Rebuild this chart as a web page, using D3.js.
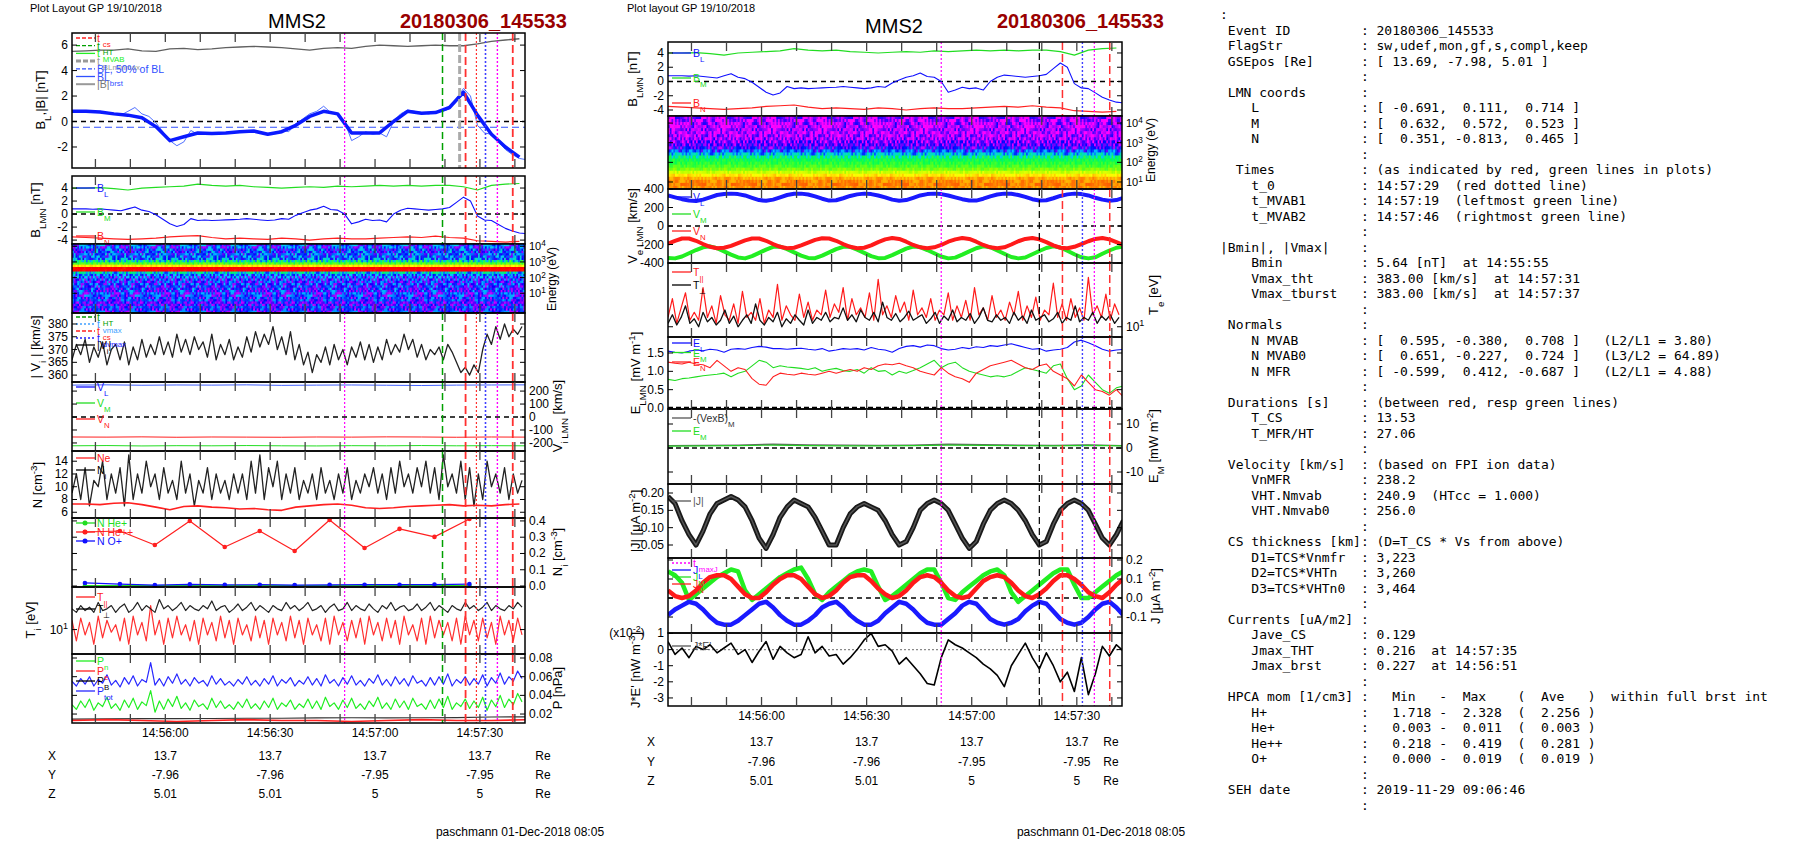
<!DOCTYPE html>
<html><head><meta charset="utf-8">
<script src="https://cdn.jsdelivr.net/npm/d3@7"></script>
<style>body{margin:0;background:#fff}text{font-family:"Liberation Sans",Arial,sans-serif}</style>
</head><body>
<script>
// ---------- DATA (seconds since 14:55:33.3; value i is at t0+i*step) ----------
const START = "14:55:33.3", SPAN = 129.6;
const timeTicks = ["14:55:40","14:55:50","14:56:00","14:56:10","14:56:20","14:56:30","14:56:40","14:56:50","14:57:00","14:57:10","14:57:20","14:57:30","14:57:40"];
const timeLabels = ["14:56:00","14:56:30","14:57:00","14:57:30"];
const posX = ["13.7","13.7","13.7","13.7"], posY = ["-7.96","-7.96","-7.95","-7.95"], posZ = ["5.01","5.01","5","5"];

const Bmag = [5.5,5.55,5.6,5.6,5.7,5.55,5.5,5.7,5.75,5.65,5.7,5.8,5.85,5.9,5.85,5.8,5.7,5.6,5.75,5.8,5.75,5.9,6.0,5.95,5.9,5.95,6.0,5.95,5.95,6.1,6.3,6.4,6.5]; // step 4
const BL = [0.8,0.8,0.8,0.75,0.8,0.7,0.6,0.5,0.8,1.1,0.6,0.4,-0.1,-0.8,-1.5,-1.9,-1.6,-0.7,-1.0,-0.9,-1.0,-0.95,-0.9,-0.85,-0.8,-0.7,-0.8,-0.9,-1.0,-0.9,-0.7,-0.8,-0.2,0.2,0.6,0.8,1.2,0.7,0.6,0.0,-1.5,-1.2,-0.8,-1.0,-0.9,-1.2,0.0,0.6,0.9,0.8,0.7,0.6,0.7,0.8,1.0,1.8,2.6,2.0,-0.3,-0.9,-1.0,-1.6,-2.2,-2.6,-2.9,-3.0]; // step 2
const BLsmooth = [0.8,0.8,0.75,0.6,0.5,0.3,-0.4,-1.5,-1.2,-0.9,-0.95,-0.9,-0.8,-0.75,-1.0,-0.8,-0.3,0.4,0.8,0.6,-0.9,-0.9,-0.9,0.0,0.8,0.65,0.7,1.1,2.3,0.5,-1.0,-2.0,-2.8]; // step 4
const BM = [4.0,4.0,4.05,3.9,3.7,4.0,4.1,4.2,4.3,4.6,4.4,4.3,4.4,4.2,4.1,4.0,4.1,4.2,4.1,4.3,4.2,4.3,4.4,4.3,4.4,4.3,4.4,4.4,4.2,3.7,4.4,4.6,4.7]; // step 4
const BN = [-3.5,-3.6,-3.7,-3.8,-3.9,-3.8,-3.7,-3.5,-3.4,-3.3,-3.6,-3.8,-3.7,-3.8,-3.9,-3.7,-3.8,-4.0,-3.8,-3.7,-3.8,-3.8,-3.7,-3.6,-3.5,-3.6,-3.4,-3.6,-3.7,-4.1,-4.2,-4.3,-4.2]; // step 4
const Vimag = [366,372,368,374,365,371,367,373,364,370,372,366,373,364,371,366,374,367,372,368,375,368,373,367,376,369,374,368,375,370,373,367,376,366,372,368,374,366,371,367,375,369,377,371,376,372,379,370,375,368,377,366,372,364,369,361,368,365,371,364,372,366,370,364,371,367,373,366,372,365,371,366,374,368,372,369,376,370,374,367,372,366,370,368,371,366,372,369,365,361,363,360,364,361,370,376,372,379,374,380,375,378,376,379]; // step 1.25
const ViL = [246,248,245,247,246,248,244,246,247,245,243,246,247,248]; // step 10
const ViM = [-222,-220,-223,-221,-222,-220,-222,-223,-221,-222,-220,-222,-221,-222];
const ViN = [-154,-155,-153,-156,-154,-155,-156,-154,-155,-153,-154,-156,-154,-155];
const Ni = [9,12,8,13,7,11,10,14,8,12,9,13,7,15,8,12,9,14,10,12,8,13,9,11,8,14,9,12,7,11,9,13,8,12,9,11,8,12,9,12,8,14,9,15,8,13,10,14,8,12,9,13,8,11,9,12,8,13,9,11,8,12,9,13,8,11,9,12,10,13,9,12,8,13,9,14,10,12,9,13,10,14,9,13,8,15,10,12,9,14,8,13,7,12,8,14,10,12,9,13,8,12,9,11]; // step 1.25
const Ne = [7.3,7.3,7.2,7.4,7.5,7.2,6.8,6.4,6.9,7.0,6.8,6.7,6.5,6.6,6.4,6.3,6.8,7.0,7.2,7.3,7.1,6.7,6.6,6.7,6.9,7.0,7.1,7.2,7.0,7.1,7.0,7.2,7.3]; // step 4
const NHepp = [0.332,0.338,0.252,0.400,0.240,0.338,0.215,0.406,0.234,0.351,0.302,0.412]; // t0 3.7, step 10
const NHep = [0.003,0.003,0.002,0.003,0.003,0.004,0.003,0.003,0.003,0.002,0.003,0.003];
const NOp = [0.019,0.012,0.006,0.010,0.007,0.008,0.006,0.007,0.008,0.008,0.009,0.012];
const Tperp = [15,14,16,14.5,15.5,14,17,14.5,15,16,14,15.5,16.5,14,15,17,14.5,16,15,14,18,15,16,14.5,15.5,17,14.5,16,15,14.5,16,15,17.5,14.5,15.5,16,14,15,16.5,14.5,15.5,17,14.5,16,15,14,16,15,14.5,17,15,16,14.5,15.5,17,14.5,15,16,14,15.5,16.5,14.5,15,17,14.5,16,15,14.5,16.5,15,14,16,15,17,14.5,15.5,16,14.5,15,16.5,14.5,15.5,17,14.5,16,15,14,16,15,14.5,17,15,16,14.5,15.5,17,14.5,16,15,14.5,16,15,17,15.5];
const Tpar = [12,8,12.5,9,11.5,7.5,13,8.5,12,9.5,11,8,12.5,7.5,13,9,11.5,8,16,9,12,7.5,12.5,8.5,13,9,11,8,12,7.5,12.5,9,11.5,8,13,8.5,12,7.5,12.5,9,11,8,13,8.5,12,7.5,12.5,9,11.5,8,13,8.5,12,7.5,12.5,9,11,8,12.5,7.5,13,9,11.5,8,12,8.5,12.5,7.5,13,9,11.5,8,12.5,8.5,12,7.5,13,9,11,8,12.5,7.5,13,8.5,12,9,11.5,8,12.5,7.5,13,9,12,8,12.5,8.5,11.5,7.5,13,9,12,8,12.5,9];
const Ptot = [0.055,0.05,0.058,0.052,0.06,0.05,0.057,0.053,0.062,0.051,0.056,0.049,0.059,0.052,0.061,0.05,0.057,0.054,0.075,0.051,0.058,0.05,0.06,0.053,0.063,0.052,0.057,0.05,0.059,0.053,0.056,0.05,0.061,0.052,0.058,0.051,0.055,0.05,0.057,0.052,0.06,0.051,0.056,0.05,0.058,0.052,0.061,0.05,0.057,0.053,0.059,0.05,0.056,0.052,0.06,0.051,0.058,0.05,0.062,0.053,0.057,0.05,0.059,0.052,0.061,0.051,0.056,0.05,0.058,0.053,0.062,0.051,0.057,0.05,0.06,0.052,0.058,0.05,0.061,0.053,0.056,0.05,0.059,0.051,0.06,0.052,0.063,0.05,0.057,0.053,0.06,0.051,0.058,0.052,0.062,0.05,0.059,0.053,0.064,0.052,0.06,0.055,0.066,0.058];
const Pion = [0.03,0.025,0.034,0.027,0.036,0.024,0.032,0.028,0.038,0.026,0.031,0.024,0.035,0.027,0.037,0.025,0.033,0.029,0.045,0.022,0.034,0.025,0.036,0.028,0.039,0.026,0.032,0.024,0.035,0.028,0.031,0.025,0.037,0.027,0.034,0.026,0.03,0.025,0.033,0.027,0.036,0.026,0.031,0.025,0.034,0.027,0.037,0.025,0.032,0.028,0.035,0.025,0.031,0.027,0.036,0.026,0.034,0.025,0.038,0.028,0.032,0.025,0.035,0.027,0.037,0.026,0.031,0.025,0.034,0.028,0.038,0.026,0.032,0.025,0.036,0.027,0.034,0.025,0.037,0.028,0.031,0.025,0.035,0.026,0.036,0.027,0.039,0.025,0.032,0.028,0.036,0.026,0.034,0.027,0.038,0.024,0.035,0.028,0.04,0.027,0.036,0.03,0.042,0.033];
const Pe = [0.013,0.014,0.013,0.012,0.013,0.014,0.013,0.013,0.012,0.013,0.014,0.013,0.013,0.014];
const PB = [0.0145,0.0148,0.015,0.015,0.0152,0.0155,0.0155,0.0158,0.016,0.0158,0.016,0.0162,0.0168,0.017];

const VeL = [330,310,290,275,270,285,310,335,345,350,345,330,305,280,272,285,310,335,348,350,340,320,295,275,278,300,325,342,350,345,330,310,285,272,280,305,330,345,350,345,330,310,290,275,275,295,320,340,350,348,335,315,290,275,278,300,325,342,350,345,330,305,285,272,280,305]; // step 2
const VeN = [-190,-160,-135,-135,-160,-195,-225,-240,-235,-215,-185,-155,-135,-135,-160,-195,-225,-240,-235,-210,-180,-150,-132,-135,-160,-195,-225,-240,-235,-210,-175,-145,-130,-140,-170,-205,-230,-240,-230,-205,-170,-145,-130,-140,-170,-205,-230,-240,-230,-200,-165,-140,-130,-145,-175,-210,-235,-240,-225,-195,-165,-140,-130,-145,-175,-205];
const VeM = [-345,-350,-330,-295,-260,-230,-220,-240,-275,-310,-340,-350,-325,-290,-255,-225,-222,-250,-285,-320,-345,-348,-320,-285,-250,-225,-225,-255,-290,-325,-348,-345,-315,-280,-245,-222,-228,-260,-295,-330,-350,-342,-310,-275,-240,-220,-230,-265,-300,-335,-350,-340,-305,-270,-238,-220,-232,-268,-305,-338,-350,-338,-300,-265,-235,-222];
const TeBlack = [11,14,10.5,13,18,11,12.5,10,15,11.5,13,10.5,12,16,11,13.5,10,12,14,11,19,12,10.5,13,11.5,15,10,12.5,11,14,12,10.5,16,11,13,12,15,11.5,13,12.5,17,12,14,11.5,16,13,12,15,11.5,20,13,12,14.5,11.5,13,15.5,12,13,14,11,12.5,15,11,13.5,12,16,11.5,13,12,14.5,11,13,17,12,11.5,14,12,13,11,15,12,13.5,11,16,12,13,14,11.5,12.5,15,11,13,12,18,11.5,13,12,15,11,13.5,12,14,11,13];
const TeRed = [13,22,11,17,26,12,15,12,30,13,18,11,24,14,12,19,11,27,13,15,12,22,11,16,13,33,12,18,14,12,25,13,20,12,16,14,28,13,19,15,30,12,22,14,17,13,26,12,38,14,18,13,24,15,20,12,28,14,17,13,22,12,16,14,26,12,18,13,21,12,30,14,17,12,24,13,16,12,20,14,27,12,18,13,23,12,16,14,34,13,19,12,22,13,17,12,40,14,18,13,25,12,19,14];
const EL = [1.55,1.52,1.5,1.55,1.58,1.56,1.6,1.58,1.52,1.6,1.62,1.6,1.65,1.68,1.66,1.62,1.62,1.6,1.62,1.63,1.6,1.58,1.62,1.55,1.58,1.62,1.6,1.62,1.58,1.65,1.6,1.58,1.52,1.62,1.68,1.7,1.66,1.72,1.7,1.62,1.58,1.6,1.65,1.62,1.67,1.65,1.7,1.68,1.72,1.75,1.7,1.65,1.6,1.62,1.55,1.58,1.6,1.65,1.8,1.85,1.78,1.7,1.6,1.55,1.58,1.6];
const EM = [0.78,0.75,0.8,0.82,0.85,0.88,0.9,0.92,0.95,0.85,0.95,1.0,1.15,1.3,1.25,1.1,1.15,1.12,1.1,1.08,1.05,1.1,1.0,1.05,1.08,1.02,1.0,1.05,0.95,1.1,1.0,1.02,0.9,1.0,0.95,1.02,1.1,1.2,1.3,1.1,1.2,1.25,1.1,1.0,0.95,0.9,0.85,0.88,0.85,0.9,1.0,1.1,1.05,1.0,0.95,1.15,1.2,0.8,0.5,0.6,0.9,0.7,0.5,0.4,0.55,0.6];
const EN = [1.25,1.22,1.2,1.25,1.2,1.18,1.1,1.3,1.15,1.0,1.1,1.05,0.8,0.65,0.62,0.85,0.95,0.92,0.9,0.95,0.92,0.9,0.95,1.0,0.95,1.0,1.05,1.0,1.1,1.05,1.15,1.2,1.18,1.22,1.15,1.1,1.0,0.95,0.9,1.1,0.95,0.85,0.8,0.7,0.95,1.05,1.15,1.2,1.25,1.3,1.2,1.1,1.05,1.15,1.2,1.0,0.9,0.8,0.6,0.9,0.7,0.5,0.45,0.35,0.5,0.3];
const VexB = [1.0,1.1,1.2,1.6,1.3,1.2,1.1,1.2,1.6,1.4,1.2,1.1,1.3,1.0]; // step 10
const EMflux = [0.8,0.9,1.0,1.2,1.0,0.9,0.9,1.0,1.2,1.1,1.0,0.9,1.1,0.9];
const Jmag = [0.19,0.17,0.12,0.08,0.05,0.09,0.14,0.17,0.18,0.19,0.18,0.16,0.12,0.07,0.04,0.08,0.13,0.16,0.18,0.17,0.16,0.13,0.09,0.05,0.05,0.10,0.14,0.16,0.17,0.16,0.15,0.12,0.08,0.05,0.06,0.10,0.15,0.17,0.18,0.17,0.15,0.11,0.07,0.04,0.06,0.11,0.15,0.17,0.18,0.17,0.15,0.12,0.08,0.05,0.06,0.11,0.15,0.17,0.18,0.17,0.15,0.11,0.07,0.05,0.08,0.12];
const JL = [-0.09,-0.06,-0.04,-0.02,-0.03,-0.06,-0.10,-0.13,-0.14,-0.14,-0.12,-0.09,-0.06,-0.03,-0.02,-0.05,-0.09,-0.12,-0.14,-0.14,-0.12,-0.09,-0.05,-0.03,-0.02,-0.05,-0.09,-0.12,-0.14,-0.14,-0.12,-0.08,-0.05,-0.02,-0.03,-0.06,-0.10,-0.13,-0.14,-0.14,-0.11,-0.08,-0.04,-0.02,-0.03,-0.07,-0.11,-0.13,-0.14,-0.13,-0.11,-0.07,-0.04,-0.02,-0.03,-0.07,-0.11,-0.13,-0.14,-0.13,-0.10,-0.06,-0.03,-0.02,-0.05,-0.09];
const JN = [0.04,0.01,0.0,0.01,0.04,0.08,0.11,0.12,0.12,0.10,0.06,0.02,0.0,0.0,0.03,0.07,0.10,0.12,0.12,0.10,0.06,0.02,0.0,0.01,0.04,0.08,0.11,0.12,0.12,0.09,0.05,0.02,0.0,0.01,0.04,0.08,0.11,0.12,0.11,0.08,0.04,0.01,0.0,0.01,0.05,0.09,0.11,0.12,0.11,0.08,0.04,0.01,0.0,0.02,0.05,0.09,0.12,0.12,0.10,0.07,0.03,0.01,0.0,0.03,0.07,0.10];
const JM = [0.14,0.12,0.08,-0.01,0.02,0.05,0.08,0.11,0.13,0.15,0.14,0.04,-0.01,0.02,0.05,0.08,0.11,0.13,0.15,0.16,0.10,0.02,-0.01,0.03,0.06,0.09,0.12,0.14,0.15,0.14,0.06,-0.01,0.01,0.04,0.07,0.10,0.13,0.15,0.15,0.08,0.0,-0.01,0.03,0.06,0.09,0.12,0.14,0.15,0.12,0.03,-0.02,0.01,0.04,0.07,0.10,0.13,0.15,0.15,0.07,0.0,0.0,0.03,0.06,0.09,0.12,0.14];
const JE = [0.5,-0.3,0.1,-0.5,0.2,0.0,0.3,-0.2,0.1,0.4,-0.3,0.0,-0.8,-0.1,0.5,-0.6,0.2,-0.2,-0.5,-0.3,0.8,-0.2,0.2,-0.4,-0.3,-0.9,-0.5,0.0,0.6,1.0,0.2,0.3,-0.1,-0.9,-0.5,-1.0,-1.5,-2.1,-2.2,-0.5,0.6,0.3,0.1,-0.2,-0.5,-0.9,-1.2,-1.6,-2.3,-1.0,-0.3,0.4,-0.5,-1.2,-0.2,-1.0,-2.0,-1.4,-2.6,-0.5,-2.8,-1.5,0.2,-0.4,0.3,-0.1];

// spectrogram levels per energy bin (top -> bottom, 0..1) and a fixed speckle pattern
const ionLevels = [0.22,0.22,0.24,0.24,0.25,0.26,0.3,0.42,0.56,0.73,0.97,0.97,0.36,0.24,0.22,0.22,0.21,0.22,0.2,0.21,0.2,0.2,0.19,0.2,0.19,0.18,0.19,0.18,0.18,0.18];
const eleLevels = [0.06,0.05,0.07,0.06,0.07,0.05,0.08,0.07,0.09,0.1,0.14,0.24,0.33,0.42,0.5,0.53,0.56,0.6,0.67,0.74,0.8,0.82,0.83,0.82];
const speckle = [0.3,-0.8,0.9,-0.2,0.6,-1,0.1,0.8,-0.5,0.4,-0.9,0.7,-0.3,0.2,-0.6,1,-0.1,0.5,-0.7,0.0,0.9,-0.4,0.3,-0.9,0.6,-0.2,0.8,-0.6,0.1];

// event times
const evLeft = [["14:56:51.3","#ff00ff","2,2",1.2],["14:57:19.3","#00a000","7,4",1.5],["14:57:25.9","#ff3030","8,4",1.8],["14:57:29","#ff3030","2,2",1.2],["14:57:31.6","#4040ff","2,2",1.6],["14:57:35","#ff00ff","2,2",1.4],["14:57:39.4","#ff3030","8,4",1.8]];
const evMid = [["14:56:51.3","#ff00ff","2,2",1.2],["14:57:19.3","#000","7,4",1.2],["14:57:25.9","#ff3030","8,4",1.5],["14:57:31.6","#4040ff","2,2",1.4],["14:57:35","#ff00ff","2,2",1.2],["14:57:39.4","#ff3030","8,4",1.5]];

const infoRows = [
["",":",null],[" Event ID","20180306_145533"],[" FlagStr","sw,udef,mon,gf,s,compl,keep"],[" GSEpos [Re]","[ 13.69, -7.98, 5.01 ]"],["",""],
[" LMN coords",""],["    L","[ -0.691,  0.111,  0.714 ]"],["    M","[  0.632,  0.572,  0.523 ]"],["    N","[  0.351, -0.813,  0.465 ]"],["",""],
["  Times","(as indicated by red, green lines in plots)"],["    t_0","14:57:29  (red dotted line)"],["    t_MVAB1","14:57:19  (leftmost green line)"],["    t_MVAB2","14:57:46  (rightmost green line)"],["",""],
["|Bmin|, |Vmax|",""],["    Bmin","5.64 [nT]  at 14:55:55"],["    Vmax_tht","383.00 [km/s]  at 14:57:31"],["    Vmax_tburst","383.00 [km/s]  at 14:57:37"],["",""],
[" Normals",""],["    N MVAB","[  0.595, -0.380,  0.708 ]   (L2/L1 = 3.80)"],["    N MVAB0","[  0.651, -0.227,  0.724 ]   (L3/L2 = 64.89)"],["    N MFR","[ -0.599,  0.412, -0.687 ]   (L2/L1 = 4.88)"],["",""],
[" Durations [s]","(between red, resp green lines)"],["    T_CS","13.53"],["    T_MFR/HT","27.06"],["",""],
[" Velocity [km/s]","(based on FPI ion data)"],["    VnMFR","238.2"],["    VHT.Nmvab","240.9  (HTcc = 1.000)"],["    VHT.Nmvab0","256.0"],["",""],
[" CS thickness [km]","(D=T_CS * Vs from above)"],["    D1=TCS*Vnmfr","3,223"],["    D2=TCS*VHTn","3,260"],["    D3=TCS*VHTn0","3,464"],["",""],
[" Currents [uA/m2]",""],["    Jave_CS","0.129"],["    Jmax_THT","0.216  at 14:57:35"],["    Jmax_brst","0.227  at 14:56:51"],["",""],
[" HPCA mom [1/cm3]","  Min   -  Max    (  Ave   )  within full brst int"],["    H+","  1.718 -  2.328  (  2.256 )"],["    He+","  0.003 -  0.011  (  0.003 )"],["    He++","  0.218 -  0.419  (  0.281 )"],["    O+","  0.000 -  0.019  (  0.019 )"],["",""],
[" SEH date","2019-11-29 09:06:46"],["",""]];

// ---------- DRAWING ----------
const secOf = s => { const [h,m,x] = s.split(":").map(Number); return h*3600+m*60+x; };
const rel = s => secOf(s) - secOf(START);
const svg = d3.select("body").append("svg").attr("width",1804).attr("height",841);
const LC = {x0:72,x1:525}, MC = {x0:668,x1:1122};
let cid = 0;
function mk(col,y0,y1,dom,log){
  const x = d3.scaleLinear().domain([0,SPAN]).range([col.x0,col.x1]);
  const y = (log?d3.scaleLog():d3.scaleLinear()).domain(dom).range([y1,y0]);
  const id = "clip"+(cid++);
  svg.append("clipPath").attr("id",id).append("rect").attr("x",col.x0).attr("y",y0).attr("width",col.x1-col.x0).attr("height",y1-y0);
  const g = svg.append("g").attr("clip-path",`url(#${id})`);
  return {x,y,g,x0:col.x0,x1:col.x1,y0,y1};
}
function frame(p, lt, rt, lfmt, rfmt, ev, fs){
  if(ev) ev.forEach(e=>p.g.append("line").attr("x1",p.x(rel(e[0]))).attr("x2",p.x(rel(e[0]))).attr("y1",p.y0).attr("y2",p.y1)
     .attr("stroke",e[1]).attr("stroke-dasharray",e[2]).attr("stroke-width",e[3]));
  const f = svg.append("g");
  f.append("rect").attr("x",p.x0).attr("y",p.y0).attr("width",p.x1-p.x0).attr("height",p.y1-p.y0).attr("fill","none").attr("stroke","#000").attr("stroke-width",1.5);
  timeTicks.forEach(s=>{const xx=p.x(rel(s));
    f.append("line").attr("x1",xx).attr("x2",xx).attr("y1",p.y0).attr("y2",p.y0+9).attr("stroke","#444").attr("stroke-width",1.3);
    f.append("line").attr("x1",xx).attr("x2",xx).attr("y1",p.y1).attr("y2",p.y1-9).attr("stroke","#444").attr("stroke-width",1.3);});
  (lt||[]).forEach(v=>{const yy=p.y(v);
    f.append("line").attr("x1",p.x0).attr("x2",p.x0+5).attr("y1",yy).attr("y2",yy).attr("stroke","#000");
    f.append("line").attr("x1",p.x1).attr("x2",p.x1-5).attr("y1",yy).attr("y2",yy).attr("stroke","#000");
    lab(f,p.x0-4,yy+4,lfmt?lfmt(v):String(v),"end",fs);});
  (rt||[]).forEach(v=>{const yy=p.y(v);
    f.append("line").attr("x1",p.x1).attr("x2",p.x1-5).attr("y1",yy).attr("y2",yy).attr("stroke","#000");
    f.append("line").attr("x1",p.x0).attr("x2",p.x0+5).attr("y1",yy).attr("y2",yy).attr("stroke","#000");
    lab(f,p.x1+4,yy+4,rfmt?rfmt(v):String(v),"start",fs);});
}
function lab(g,x,y,s,anchor,size){
  const t = g.append("text").attr("x",x).attr("y",y).attr("text-anchor",anchor||"start").attr("font-size",size||12);
  if(Array.isArray(s)) s.forEach(([str,k])=>{const ts=t.append("tspan").text(str);
     if(k==="sub") ts.attr("baseline-shift","sub").attr("font-size",(size||12)*0.75);
     if(k==="sup") ts.attr("baseline-shift","super").attr("font-size",(size||12)*0.75);});
  else t.text(s);
  return t;
}
const pow = v => [["10"],[String(Math.round(Math.log10(v))),"sup"]];
function series(p,vals,step,color,w,t0,op){
  p.g.append("path").datum(vals).attr("fill","none").attr("stroke",color).attr("stroke-width",w).attr("stroke-linejoin","round")
   .attr("opacity",op||1).attr("d",d3.line().x((d,i)=>p.x((t0||0)+i*step)).y(d=>p.y(d)));
}
function hline(p,v,color,dash,w){p.g.append("line").attr("x1",p.x0).attr("x2",p.x1).attr("y1",p.y(v)).attr("y2",p.y(v)).attr("stroke",color).attr("stroke-dasharray",dash).attr("stroke-width",w||1.5);}
function legend(p,items,y0,dy){
  items.forEach((it,i)=>{const yy=y0+i*dy;
    p.g.append("line").attr("x1",p.x0+4).attr("x2",p.x0+23).attr("y1",yy).attr("y2",yy).attr("stroke",it.c).attr("stroke-width",it.w||1.3).attr("stroke-dasharray",it.d||null);
    if(it.m) p.g.append("circle").attr("cx",p.x0+13).attr("cy",yy).attr("r",2.5).attr("fill",it.c);
    lab(svg,p.x0+25,yy+4,it.t,"start",10.5).attr("fill",it.tc||it.c);});
}
function ylabel(x,y,parts,size){ lab(svg,0,0,parts,"middle",size||13).attr("transform",`translate(${x},${y}) rotate(-90)`); }
const cs = d3.scaleLinear().domain([0,0.1,0.2,0.35,0.5,0.62,0.72,0.82,0.95])
  .range(["#ff00ff","#9000ff","#0000ff","#00c8ff","#00ff50","#90ff00","#ffff00","#ff9000","#ff0000"]).clamp(true);
function spectro(p,levels,amp){
  const nb = levels.length, nt = 260, bh=(p.y1-p.y0)/nb, tw=SPAN/nt, n=speckle.length;
  levels.forEach((lv,j)=>{ for(let i=0;i<nt;i++){
    const k = (i*i + 3*j*j + 5*i*j + 7*i + 2*j) % n;
    const v = lv + amp*speckle[k]*(lv>0.45?0.3:1);
    p.g.append("rect").attr("x",p.x(i*tw)).attr("y",p.y0+j*bh).attr("width",p.x(tw)-p.x(0)+0.6).attr("height",bh+0.6).attr("fill",cs(v));}});
}
const TC = {red:"#ff2020",green:"#22dd22",blue:"#1010ff",gray:"#606060"};
const ttl = (s)=>[["t "],[s,"sub"]];

// ----- headers -----
lab(svg,30,12,"Plot Layout GP 19/10/2018","start",11);
lab(svg,297,28,"MMS2","middle",20);
lab(svg,400,28,"20180306_145533","start",20).attr("fill","#990000").attr("font-weight","bold");
lab(svg,627,12,"Plot layout GP 19/10/2018","start",11);
lab(svg,894,33,"MMS2","middle",20);
lab(svg,997,28,"20180306_145533","start",20).attr("fill","#990000").attr("font-weight","bold");

// ===== LEFT COLUMN =====
let p = mk(LC,33,168,[-3.65,6.95]);
series(p,Bmag,4,TC.gray,1.3);
hline(p,0,"#000","5,4",1.5); hline(p,-0.45,"#3050ff","7,4",1.2);
series(p,BL,2,"#5070ff",1);
series(p,BLsmooth,4,"#0a1aff",3.5);
p.g.append("line").attr("x1",p.x(rel("14:57:24.2"))).attr("x2",p.x(rel("14:57:24.2"))).attr("y1",p.y0).attr("y2",p.y1).attr("stroke","#aaa").attr("stroke-width",3).attr("stroke-dasharray","8,3");
legend(p,[{c:TC.red,d:"4,2",t:ttl("cs")},{c:"#00a000",d:"4,2",t:ttl("HT")},{c:"#22ee22",t:ttl("MVAB")},{c:"#999",d:"5,2",w:3,t:ttl("BLminmax")},
  {c:"#3050ff",d:"4,2",t:"BL, 50% of BL"},{c:"#3050ff",t:[["BL"],["brst","sub"]]},{c:"#999",w:2,t:"|B|",tc:"#777"}],38,7.7);
frame(p,[-2,0,2,4,6],null,null,null,evLeft);
ylabel(45,100,[["B"],["L","sub"],[",|B| [nT]"]]);

p = mk(LC,176,244,[-4.6,5.85]);
hline(p,0,"#000","5,4",1.5);
series(p,BM,4,TC.green,1.2); series(p,BL,2,TC.blue,1.1); series(p,BN,4,TC.red,1.2);
legend(p,[{c:TC.blue,t:[["B"],["L","sub"]]},{c:TC.green,t:[["B"],["M","sub"]]},{c:TC.red,t:[["B"],["N","sub"]]}],188,24);
frame(p,[-4,-2,0,2,4],null,null,null,evLeft);
ylabel(40,210,[["B"],["LMN","sub"],[" [nT]"]]);

p = mk(LC,244,313,[0.55,14000],true);
spectro(p,ionLevels,0.15);
frame(p,null,[10,100,1000,10000],null,pow,null,11);
ylabel(556,279,"Energy (eV)",12);

p = mk(LC,313,382,[357.3,384.3]);
series(p,Vimag,1.25,"#222",1.3);
legend(p,[{c:"#00a000",d:"4,2",t:ttl("HT")},{c:"#40a0ff",d:"2,2",t:ttl("vmax")},{c:TC.red,d:"4,2",t:ttl("cs")},{c:"#2020ff",d:"2,2",t:ttl("dvmax")},{c:"#000",t:[["|V"],["i","sub"],["|"]]}],317,7);
frame(p,[360,365,370,375,380],null,null,null,evLeft);
ylabel(40,347,[["| V"],["i","sub"],[" | [km/s]"]]);

p = mk(LC,382,451,[-262,270]);
hline(p,0,"#000","5,4",1.5);
series(p,ViL,10,"#4060ff",1); series(p,ViN,10,TC.red,1); series(p,ViM,10,TC.green,1);
legend(p,[{c:TC.blue,t:[["V"],["L","sub"]]},{c:TC.green,t:[["V"],["M","sub"]]},{c:TC.red,t:[["V"],["N","sub"]]}],387,16);
frame(p,null,[-200,-100,0,100,200],null,null,evLeft);
ylabel(562,416,[["V"],["i LMN","sub"],[" [km/s]"]]);

p = mk(LC,451,518,[5.1,15.6]);
series(p,Ni,1.25,"#222",1.3); series(p,Ne,4,TC.red,1.6);
legend(p,[{c:TC.red,t:"Ne"},{c:"#000",t:[["N"],["i","sub"]]}],458,12);
frame(p,[6,8,10,12,14],null,null,null,evLeft);
ylabel(42,485,[["N [cm"],["-3","sup"],["]"]]);

p = mk(LC,518,587,[-0.006,0.418]);
[[NHep,"#22dd22"],[NOp,"#1010ff"],[NHepp,"#ff2020"]].forEach(([d,c])=>{
  series(p,d,10,c,1.2,3.7);
  d.forEach((v,i)=>p.g.append("circle").attr("cx",p.x(3.7+i*10)).attr("cy",p.y(v)).attr("r",2.3).attr("fill",c));});
legend(p,[{c:TC.green,m:1,t:"N  He+"},{c:TC.red,m:1,t:"N  He++"},{c:TC.blue,m:1,t:"N  O+"}],523,9);
frame(p,null,[0,0.1,0.2,0.3,0.4],null,v=>v.toFixed(1),evLeft);
ylabel(562,552,[["N"],["i","sub"],[" [cm"],["-3","sup"],["]"]]);

p = mk(LC,587,654,[6.2,23],true);
series(p,Tpar,1.25,"#ff3030",1.2); series(p,Tperp,1.25,"#222",1.2);
legend(p,[{c:TC.red,t:[["T"],["||","sub"]]},{c:"#000",t:[["T"],["⊥","sub"]]}],597,12);
frame(p,[10],null,pow,null,evLeft);
ylabel(35,620,[["T"],["i","sub"],[" [eV]"]]);

p = mk(LC,654,723,[0.0104,0.0843]);
series(p,PB,10,"#333",1.2); series(p,Pe,10,TC.red,1.6); series(p,Pion,1.25,"#22ee22",1.2); series(p,Ptot,1.25,"#2828ff",1.2);
legend(p,[{c:"#22ee22",t:[["P"],["n","sub"]]},{c:TC.red,t:[["P"],["e","sub"]]},{c:"#000",t:[["P"],["B","sub"]]},{c:"#2828ff",t:[["P"],["tot","sub"]]}],661,10);
frame(p,null,[0.02,0.04,0.06,0.08],null,v=>v.toFixed(2),evLeft);
ylabel(562,688,"P [nPa]");

// ===== MIDDLE COLUMN =====
p = mk(MC,42,116,[-4.84,5.54]);
hline(p,0,"#000","5,4",1.5);
series(p,BM,4,TC.green,1.2); series(p,BL,2,TC.blue,1.1); series(p,BN,4,TC.red,1.2);
legend(p,[{c:TC.blue,t:[["B"],["L","sub"]]},{c:TC.green,t:[["B"],["M","sub"]]},{c:TC.red,t:[["B"],["N","sub"]]}],53,25);
frame(p,[-4,-2,0,2,4],null,null,null,evMid);
ylabel(637,79,[["B"],["LMN","sub"],[" [nT]"]]);

p = mk(MC,116,189,[4.4,22900],true);
spectro(p,eleLevels,0.12);
frame(p,null,[10,100,1000,10000],null,pow,null,11);
ylabel(1155,150,"Energy (eV)",12);

p = mk(MC,189,263,[-400,400]);
hline(p,0,"#000","5,4",1.5);
series(p,VeL,2,"#1a1aff",4); series(p,VeM,2,"#22ee22",4); series(p,VeN,2,"#ff1a1a",4);
legend(p,[{c:TC.blue,t:[["V"],["L","sub"]]},{c:TC.green,t:[["V"],["M","sub"]]},{c:TC.red,t:[["V"],["N","sub"]]}],197,17);
frame(p,[-400,-200,0,200,400],null,null,null,evMid);
ylabel(637,226,[["V"],["e LMN","sub"],[" [km/s]"]]);

p = mk(MC,263,337,[7.5,60],true);
series(p,TeRed,1.25,"#ff1a1a",1.2); series(p,TeBlack,1.25,"#111",1.3);
legend(p,[{c:TC.red,t:[["T"],["||","sub"]]},{c:"#000",t:[["T"],["⊥","sub"]]}],272,13);
frame(p,null,[10],null,pow,evMid);
ylabel(1158,295,[["T"],["e","sub"],[" [eV]"]]);

p = mk(MC,337,409,[-0.027,1.936]);
hline(p,0,"#000","5,3",2.5);
series(p,EL,2,TC.blue,1.1); series(p,EM,2,TC.green,1.1); series(p,EN,2,TC.red,1.1);
legend(p,[{c:TC.blue,t:[["E"],["L","sub"]]},{c:TC.green,t:[["E"],["M","sub"]]},{c:TC.red,t:[["E"],["N","sub"]]}],343,9.5);
frame(p,[0,0.5,1.0,1.5],null,v=>v.toFixed(1),null,evMid);
ylabel(640,373,[["E"],["LMN","sub"],["  [mV m"],["-1","sup"],["]"]]);

p = mk(MC,409,484,[-15,16.25]);
hline(p,0,"#444","5,3",2);
series(p,VexB,10,"#666",1.2); series(p,EMflux,10,"#22cc22",1.2);
legend(p,[{c:"#555",t:[["-(VexB)"],["M","sub"]],tc:"#333"},{c:TC.green,t:[["E"],["M","sub"]]}],418,13);
frame(p,null,[-10,0,10],null,null,evMid);
ylabel(1158,446,[["E"],["M","sub"],[" [mW m"],["-2","sup"],["]"]]);

p = mk(MC,484,558,[0.0125,0.226]);
series(p,Jmag,2,"#000",5,0,0.9); series(p,Jmag,2,"#555",1.5);
legend(p,[{c:"#555",t:"|J|",tc:"#555"}],501,10);
frame(p,[0.05,0.10,0.15,0.20],null,v=>v.toFixed(2),null,evMid);
ylabel(640,521,[["|J| [μA m"],["-2","sup"],["]"]]);

p = mk(MC,558,633,[-0.184,0.2105]);
hline(p,0,"#000","5,4",1.5);
series(p,JM,2,"#22ee22",4.5); series(p,JN,2,"#ff1a1a",4.5); series(p,JL,2,"#1a1aff",4.5);
legend(p,[{c:"#ff00ff",d:"2,2",t:[["t "],["maxJ","sub"]]},{c:TC.blue,t:[["J"],["L","sub"]]},{c:TC.green,t:[["J"],["M","sub"]]},{c:TC.red,t:[["J"],["N","sub"]]}],563,7);
frame(p,null,[-0.1,0.0,0.1,0.2],null,v=>v.toFixed(1),evMid);
ylabel(1160,596,[["J [μA m"],["-2","sup"],["]"]]);

p = mk(MC,633,706,[-3.5,1.03]);
hline(p,0,"#888","2,2",1.2);
series(p,JE,2,"#000",1.6);
legend(p,[{c:"#555",t:"J*E'",tc:"#444"}],646,10);
frame(p,[-3,-2,-1,0,1],null,null,null,evMid);
lab(svg,627,637,[["(x10"],["-2","sup"],[")"]],"middle",12);
ylabel(640,670,[["J*E' [nW m"],["-3","sup"],["]"]]);

// time labels and positions
[[LC,737,[756,775,794],52,543],[MC,720,[742,762,781],651,1111]].forEach(([col,ty,rows,lx,rx])=>{
  const x = d3.scaleLinear().domain([0,SPAN]).range([col.x0,col.x1]);
  timeLabels.forEach(s=>lab(svg,x(rel(s)),ty,s,"middle",12));
  [["X",posX],["Y",posY],["Z",posZ]].forEach(([n,arr],k)=>{
    lab(svg,lx,rows[k]+4,n,"middle",12);
    arr.forEach((v,i)=>lab(svg,x(rel(timeLabels[i])),rows[k]+4,v,"middle",12));
    lab(svg,rx,rows[k]+4,"Re","middle",12);});
});
lab(svg,520,836,"paschmann 01-Dec-2018 08:05","middle",12);
lab(svg,1101,836,"paschmann 01-Dec-2018 08:05","middle",12);

// right info block
const info = svg.append("g");
infoRows.forEach((r,i)=>{
  const s = r.length===3 ? ":" : (r[0].padEnd(18," ")+":"+(r[1]?" "+r[1]:""));
  info.append("text").attr("x",1220).attr("y",19+i*15.5).attr("font-size",13)
    .style("font-family","'DejaVu Sans Mono',monospace").style("white-space","pre").text(s);
});
</script>
</body></html>
